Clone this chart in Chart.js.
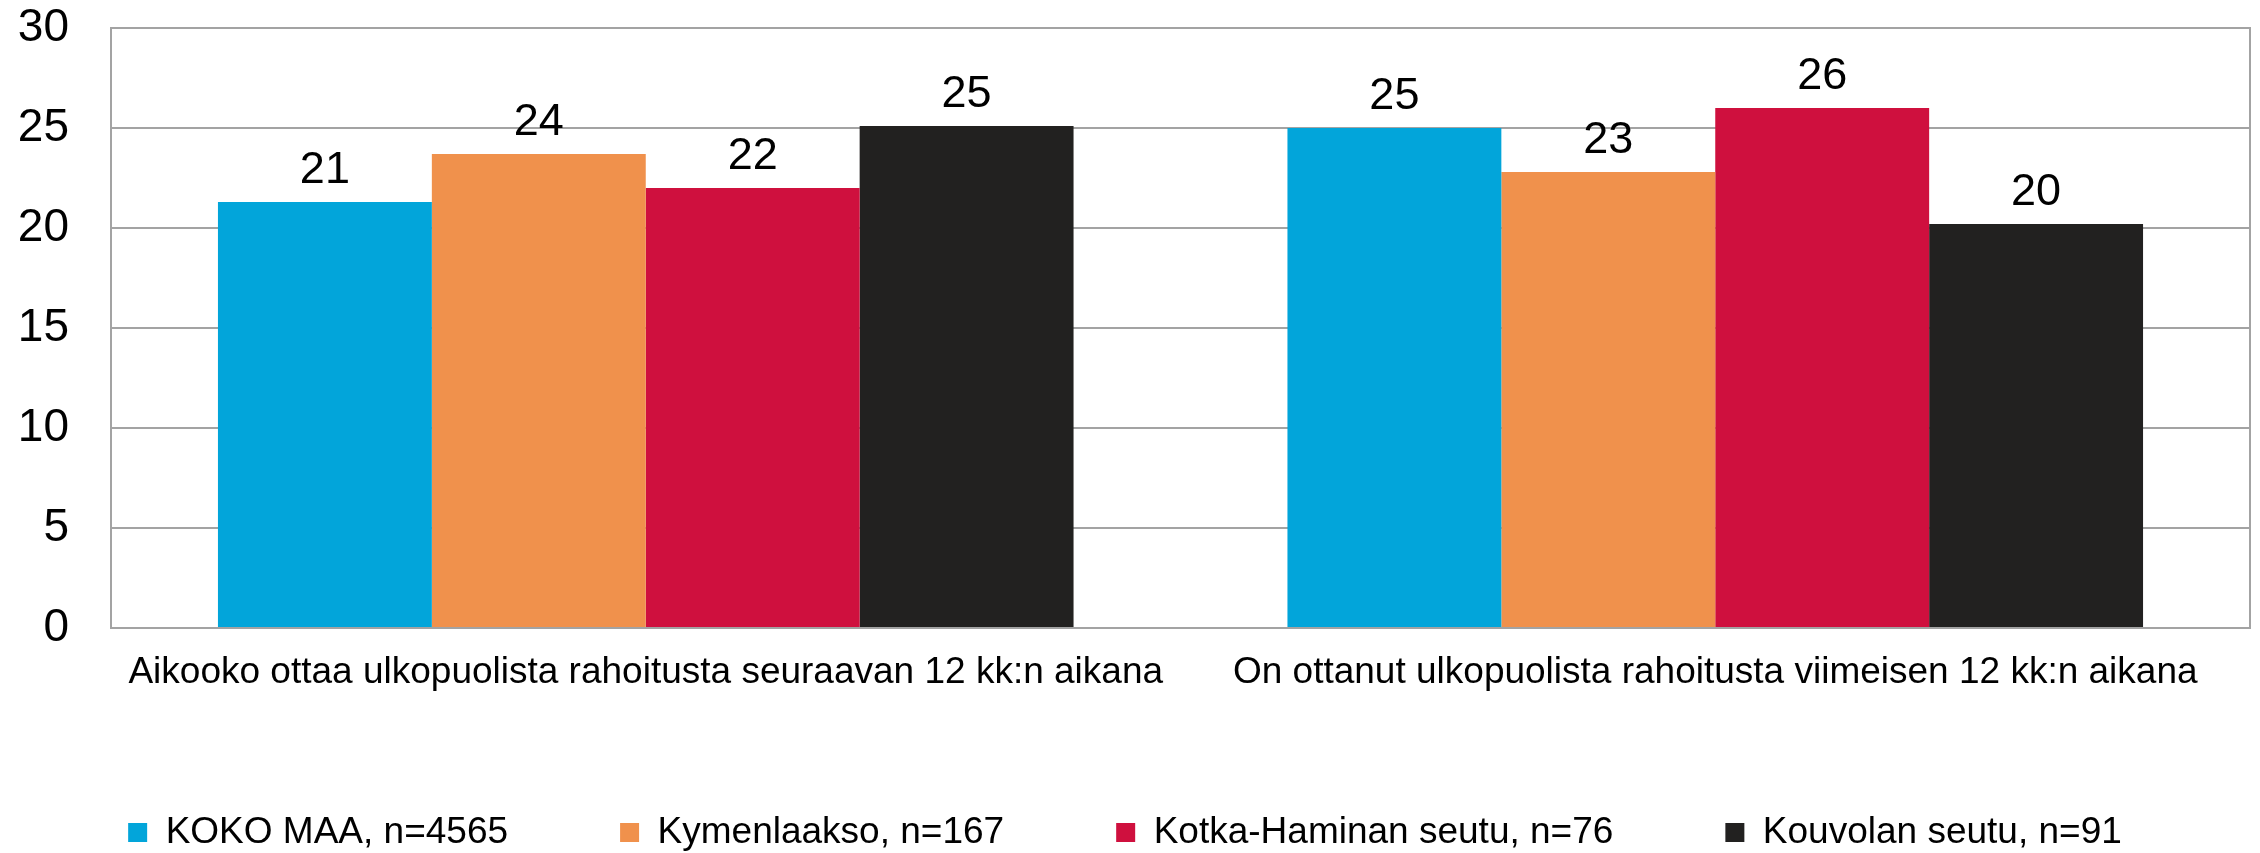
<!DOCTYPE html>
<html lang="fi">
<head>
<meta charset="utf-8">
<title>Ulkopuolinen rahoitus</title>
<script src="https://cdn.jsdelivr.net/npm/chart.js@4.4.1/dist/chart.umd.min.js"></script>
<style>
  html, body { margin: 0; padding: 0; background: #fff; }
  #wrap { width: 2260px; height: 853px; }
</style>
</head>
<body>
<div id="wrap"><canvas id="chart" width="2260" height="853"></canvas></div>
<script>
'use strict';

/* ---- Data (percent) ---- */
const CATEGORIES = [
  'Aikooko ottaa ulkopuolista rahoitusta seuraavan 12 kk:n aikana',
  'On ottanut ulkopuolista rahoitusta viimeisen 12 kk:n aikana',
];
const SERIES_NAMES = [
  'KOKO MAA, n=4565',
  'Kymenlaakso, n=167',
  'Kotka-Haminan seutu, n=76',
  'Kouvolan seutu, n=91',
];
const KOKO_MAA     = [21.3, 25.0];
const KYMENLAAKSO  = [23.7, 22.8];
const KOTKA_HAMINA = [22.0, 26.0];
const KOUVOLA      = [25.1, 20.2];
const Y_TICKS      = [0, 5, 10, 15, 20, 25, 30];

/* ---- Style ---- */
const COLORS    = ['#02a5da', '#f0914c', '#cf103e', '#222120'];
const GRID_GRAY = '#a3a3a3';
const FONT      = '"Liberation Sans", Arial, sans-serif';

Chart.defaults.font.family = FONT;
Chart.defaults.color = '#000';

/* Numbers above each bar, rounded like the original */
const valueLabels = {
  id: 'valueLabels',
  afterDatasetsDraw(chart) {
    const { ctx } = chart;
    ctx.save();
    ctx.font = `45px ${FONT}`;
    ctx.fillStyle = '#000';
    ctx.textAlign = 'center';
    ctx.textBaseline = 'alphabetic';
    chart.data.datasets.forEach((ds, i) => {
      chart.getDatasetMeta(i).data.forEach((bar, j) => {
        ctx.fillText(String(Math.round(ds.data[j])), bar.x, bar.y - 19);
      });
    });
    ctx.restore();
  },
};

/* Legend sits low: drop the bottom padding from its box */
const legendTight = {
  id: 'legendTight',
  beforeInit(chart) {
    const origFit = chart.legend.fit;
    chart.legend.fit = function () {
      origFit.call(this);
      const fs = this.options.labels.font.size;
      this.height = this.options.labels.padding + fs + 2;
    };
  },
};

const seriesData = [KOKO_MAA, KYMENLAAKSO, KOTKA_HAMINA, KOUVOLA];

new Chart(document.getElementById('chart'), {
  type: 'bar',
  data: {
    labels: CATEGORIES,
    datasets: SERIES_NAMES.map((name, i) => ({
      label: name,
      data: seriesData[i],
      backgroundColor: COLORS[i],
      borderWidth: 0,
      categoryPercentage: 0.8,
      barPercentage: 1.0,
    })),
  },
  options: {
    responsive: false,
    animation: false,
    layout: { padding: { top: 28, right: 10, left: 0, bottom: 0 } },
    plugins: {
      tooltip: { enabled: false },
      legend: {
        position: 'bottom',
        labels: {
          font: { size: 37 },
          color: '#000',
          boxWidth: 19,
          boxHeight: 19,
          padding: 112,
        },
      },
    },
    scales: {
      x: {
        grid: { drawOnChartArea: false, drawTicks: false },
        border: { display: true, color: GRID_GRAY, width: 2 },
        ticks: { font: { size: 37 }, padding: 23, maxRotation: 0, autoSkip: false },
        afterFit: scale => {
          scale.height = 74;
          scale.paddingTop = 0;
          scale.paddingBottom = 0;
        },
      },
      y: {
        min: 0,
        max: 30,
        afterBuildTicks: scale => { scale.ticks = Y_TICKS.map(v => ({ value: v })); },
        grid: { color: GRID_GRAY, lineWidth: 2, drawTicks: false },
        border: { display: true, color: GRID_GRAY, width: 2 },
        ticks: { font: { size: 46 }, padding: 42 },
        afterFit: scale => {
          scale.width = 111;
          scale.paddingTop = 0;
          scale.paddingBottom = 0;
        },
      },
      yRight: {
        position: 'right',
        min: 0,
        max: 30,
        grid: { drawOnChartArea: false, drawTicks: false },
        border: { display: true, color: GRID_GRAY, width: 2 },
        ticks: { display: false },
        afterFit: scale => {
          scale.width = 0;
          scale.paddingTop = 0;
          scale.paddingBottom = 0;
        },
      },
    },
  },
  plugins: [valueLabels, legendTight],
});
</script>
</body>
</html>
